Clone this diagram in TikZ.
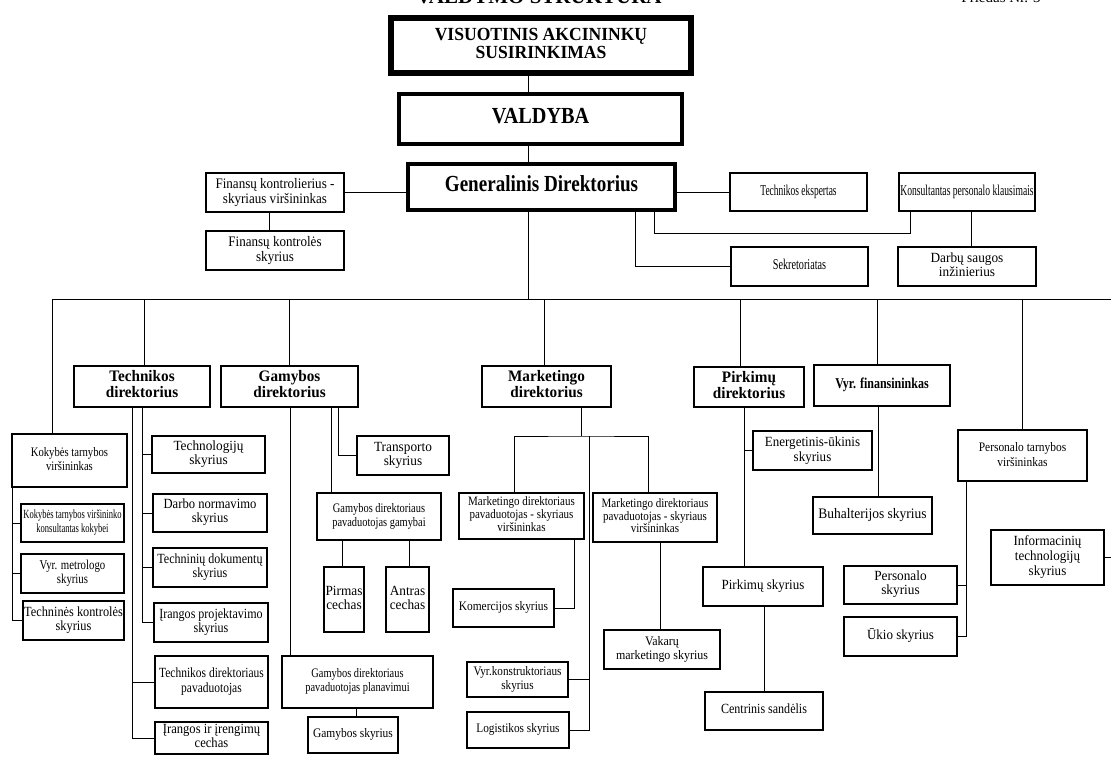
\documentclass[tikz,border=0pt]{standalone}
\usepackage{fontspec}
\setmainfont{Liberation Serif}
\usepackage{graphicx}
\newcommand\tx[4]{\scalebox{#1}[1]{\fontsize{#2}{#3}\selectfont\begin{tabular}{@{}c@{}}#4\end{tabular}}}
\newcommand\txb[4]{\scalebox{#1}[1]{\fontsize{#2}{#3}\selectfont\bfseries\begin{tabular}{@{}c@{}}#4\end{tabular}}}
\newcommand\bx[7]{%
  \pgfmathsetmacro\bxcx{(#3+#5)/2}\pgfmathsetmacro\bxcy{(#4+#6)/2}%
  \pgfmathsetmacro\bxw{#5-#3}\pgfmathsetmacro\bxh{#6-#4}%
  \node[#1, minimum width=\bxw pt, minimum height=\bxh pt] (#2) at (\bxcx,\bxcy) {#7};}
\begin{document}
\begin{tikzpicture}[x=1pt,y=-1pt,
  box/.style={draw, rectangle, inner sep=0pt, line width=1.2pt},
  tbox/.style={box, line width=2.6pt},
  link/.style={line width=1pt}]
\useasboundingbox (0,0) rectangle (1111,756);
\fill[white] (0,0) rectangle (1111,756);
% header (cut off at the top)
\node[anchor=base, inner sep=0pt] (title) at (539,3.5) {\txb{1}{21}{22}{VALDYMO STRUKTŪRA}};
\node[anchor=base, inner sep=0pt] (appx) at (1001,3) {\tx{1}{15}{16}{Priedas Nr. 3}};
% top
\bx{box, line width=5.5pt}{vas}{391}{18}{691}{73}{\txb{0.95}{18.5}{18}{VISUOTINIS AKCININKŲ\\SUSIRINKIMAS}}
\bx{box, line width=4.5pt}{val}{399}{94}{682}{144}{\txb{0.88}{23}{24}{VALDYBA}}
\bx{box, line width=3.8pt}{gd}{408}{164}{675}{210}{\txb{0.83}{23}{24}{Generalinis Direktorius}}
\bx{box}{fk}{206}{173}{344}{212}{\tx{0.9}{14.5}{15}{Finansų kontrolierius -\\skyriaus viršininkas}}
\bx{box}{fks}{206}{231}{344}{270}{\tx{0.9}{14.5}{15}{Finansų kontrolės\\skyrius}}
\bx{tbox}{te}{730}{173}{867}{211}{\tx{0.63}{15}{14}{Technikos ekspertas}}
\bx{tbox}{kp}{899}{173}{1035}{211}{\tx{0.64}{15}{14}{Konsultantas personalo klausimais}}
\bx{box}{sek}{731}{247}{868}{286}{\tx{0.68}{15}{14}{Sekretoriatas}}
\bx{box}{dar}{898}{247}{1036}{286}{\tx{0.95}{14}{13}{Darbų saugos\\inžinierius}}
% directors
\bx{tbox}{td}{74}{366}{210}{407}{\txb{0.95}{16}{16}{Technikos\\direktorius}}
\bx{tbox}{gmd}{221}{366}{358}{407}{\txb{0.95}{16}{16}{Gamybos\\direktorius}}
\bx{tbox}{md}{482}{366}{611}{407}{\txb{0.95}{16}{16}{Marketingo\\direktorius}}
\bx{tbox}{pd}{694}{367}{804}{407}{\txb{0.95}{16}{16}{Pirkimų\\direktorius}}
\bx{tbox}{vf}{814}{365}{950}{406}{\txb{0.8}{15}{16}{Vyr. finansininkas}}
% quality
\bx{box}{kok}{12}{434}{127}{487}{\tx{0.82}{13}{14}{Kokybės tarnybos\\viršininkas}}
\bx{box}{kk}{21}{504}{124}{542}{\tx{0.68}{12.5}{14}{Kokybės tarnybos viršininko\\konsultantas kokybei}}
\bx{box}{vm}{21}{554}{124}{593}{\tx{0.8}{13.5}{14}{Vyr. metrologo\\skyrius}}
\bx{box}{tk}{23}{601}{124}{640}{\tx{0.88}{14}{14}{Techninės kontrolės\\skyrius}}
% technical
\bx{box}{tech}{152}{436}{265}{473}{\tx{0.95}{14}{14}{Technologijų\\skyrius}}
\bx{box}{dn}{153}{494}{267}{532}{\tx{0.9}{14}{14}{Darbo normavimo\\skyrius}}
\bx{box}{tdok}{153}{548}{267}{587}{\tx{0.86}{14}{14}{Techninių dokumentų\\skyrius}}
\bx{box}{iproj}{154}{603}{268}{642}{\tx{0.86}{14}{14}{Įrangos projektavimo\\skyrius}}
\bx{box}{tdp}{155}{656}{268}{708}{\tx{0.82}{14}{15}{Technikos direktoriaus\\pavaduotojas}}
\bx{box}{iic}{155}{722}{268}{754}{\tx{0.9}{14}{14}{Įrangos ir įrengimų\\cechas}}
% production
\bx{box}{tr}{357}{436}{449}{475}{\tx{0.95}{14}{14}{Transporto\\skyrius}}
\bx{box}{gpg}{317}{493}{441}{540}{\tx{0.8}{13}{14}{Gamybos direktoriaus\\pavaduotojas gamybai}}
\bx{box}{pc}{324}{567}{364}{632}{\tx{0.95}{14}{14}{Pirmas\\cechas}}
\bx{box}{ac}{386}{567}{429}{632}{\tx{0.95}{14}{14}{Antras\\cechas}}
\bx{box}{gpp}{282}{656}{433}{708}{\tx{0.8}{13}{14}{Gamybos direktoriaus\\pavaduotojas planavimui}}
\bx{box}{gs}{308}{717}{398}{753}{\tx{0.88}{13}{14}{Gamybos skyrius}}
% marketing
\bx{box}{md1}{459}{493}{584}{539}{\tx{0.86}{12.8}{12.5}{Marketingo direktoriaus\\pavaduotojas - skyriaus\\viršininkas}}
\bx{box}{md2}{593}{493}{717}{542}{\tx{0.86}{12.8}{12.5}{Marketingo direktoriaus\\pavaduotojas - skyriaus\\viršininkas}}
\bx{box}{kom}{453}{589}{554}{627}{\tx{0.88}{13}{14}{Komercijos skyrius}}
\bx{box}{vk}{467}{662}{568}{697}{\tx{0.86}{13}{14}{Vyr.konstruktoriaus\\skyrius}}
\bx{box}{log}{467}{712}{569}{748}{\tx{0.87}{13}{14}{Logistikos skyrius}}
\bx{box}{vak}{604}{630}{720}{669}{\tx{0.92}{13}{14}{Vakarų\\marketingo skyrius}}
% purchasing
\bx{box}{en}{753}{431}{872}{470}{\tx{0.93}{14}{15}{Energetinis-ūkinis\\skyrius}}
\bx{box}{ps}{703}{567}{823}{606}{\tx{0.93}{14}{14}{Pirkimų skyrius}}
\bx{box}{cs}{705}{692}{823}{730}{\tx{0.86}{14}{14}{Centrinis sandėlis}}
% finance
\bx{box}{buh}{813}{497}{932}{534}{\tx{0.93}{14.5}{15}{Buhalterijos skyrius}}
% personnel
\bx{box}{pt}{958}{430}{1087}{481}{\tx{0.88}{13}{15}{Personalo tarnybos\\viršininkas}}
\bx{box}{psk}{844}{566}{957}{604}{\tx{0.95}{14}{14}{Personalo\\skyrius}}
\bx{box}{uk}{844}{617}{957}{656}{\tx{0.93}{14}{14}{Ūkio skyrius}}
\bx{box}{it}{991}{530}{1104}{585}{\tx{0.93}{14}{15}{Informacinių\\technologijų\\skyrius}}
% junction coordinates
\coordinate (busL) at (52,299);
\coordinate (busR) at (1111,299);
\coordinate (kpj) at (910,233);
\coordinate (mj) at (581,436);
% connectors: top
\draw[link] (528,0 |- vas.south) -- (528,0 |- val.north);
\draw[link] (528,0 |- val.south) -- (528,0 |- gd.north);
\draw[link] (fk.east) -- (fk.east -| gd.west);
\draw[link] (269,0 |- fk.south) -- (269,0 |- fks.north);
\draw[link] (te.west -| gd.east) -- (te.west);
\draw[link] (654,0 |- gd.south) |- (kpj) -- (kpj |- kp.south);
\draw[link] (635,0 |- gd.south) |- (sek.west);
\draw[link] (971,0 |- kp.south) -- (971,0 |- dar.north);
\draw[link] (528,0 |- gd.south) -- (528,0 |- busL);
\draw[link] (busL) -- (busR);
% drops from the bus
\draw[link] (busL) -- (52,0 |- kok.north);
\draw[link] (144,0 |- busL) -- (144,0 |- td.north);
\draw[link] (289,0 |- busL) -- (289,0 |- gmd.north);
\draw[link] (544,0 |- busL) -- (544,0 |- md.north);
\draw[link] (740,0 |- busL) -- (740,0 |- pd.north);
\draw[link] (877,0 |- busL) -- (877,0 |- vf.north);
\draw[link] (1022,0 |- busL) -- (1022,0 |- pt.north);
% quality
\draw[link] (12,0 |- kok.south) |- (tk.west);
\draw[link] (12,0 |- kk.west) -- (kk.west);
\draw[link] (12,0 |- vm.west) -- (vm.west);
% technical
\draw[link] (142,0 |- td.south) |- (iproj.west);
\draw[link] (142,0 |- tech.west) -- (tech.west);
\draw[link] (142,0 |- dn.west) -- (dn.west);
\draw[link] (142,0 |- tdok.west) -- (tdok.west);
\draw[link] (132,0 |- td.south) |- (iic.west);
\draw[link] (132,0 |- tdp.west) -- (tdp.west);
% production
\draw[link] (290,0 |- gmd.south) -- (290,0 |- gpp.north);
\draw[link] (331,0 |- gmd.south) -- (331,0 |- gpg.north);
\draw[link] (338,0 |- gmd.south) |- (tr.west);
\draw[link] (342,0 |- gpg.south) -- (342,0 |- pc.north);
\draw[link] (409,0 |- gpg.south) -- (409,0 |- ac.north);
\draw[link] (356,0 |- gpp.south) -- (356,0 |- gs.north);
% marketing
\draw[link] (581,0 |- md.south) -- (mj);
\draw[link] (514,0 |- md1.north) |- (mj) -| (648,0 |- md2.north);
\draw[link] (589,0 |- mj) |- (log.east);
\draw[link] (589,0 |- vk.east) -- (vk.east);
\draw[link] (574,0 |- md1.south) |- (kom.east);
\draw[link] (660,0 |- md2.south) -- (660,0 |- vak.north);
% purchasing
\draw[link] (744,0 |- pd.south) -- (744,0 |- ps.north);
\draw[link] (744,0 |- en.west) -- (en.west);
\draw[link] (764,0 |- ps.south) -- (764,0 |- cs.north);
% finance
\draw[link] (878,0 |- vf.south) -- (878,0 |- buh.north);
% personnel
\draw[link] (966,0 |- pt.south) |- (uk.east);
\draw[link] (966,0 |- psk.east) -- (psk.east);
\draw[link] (it.east) -- (it.east -| busR);
\end{tikzpicture}
\end{document}
